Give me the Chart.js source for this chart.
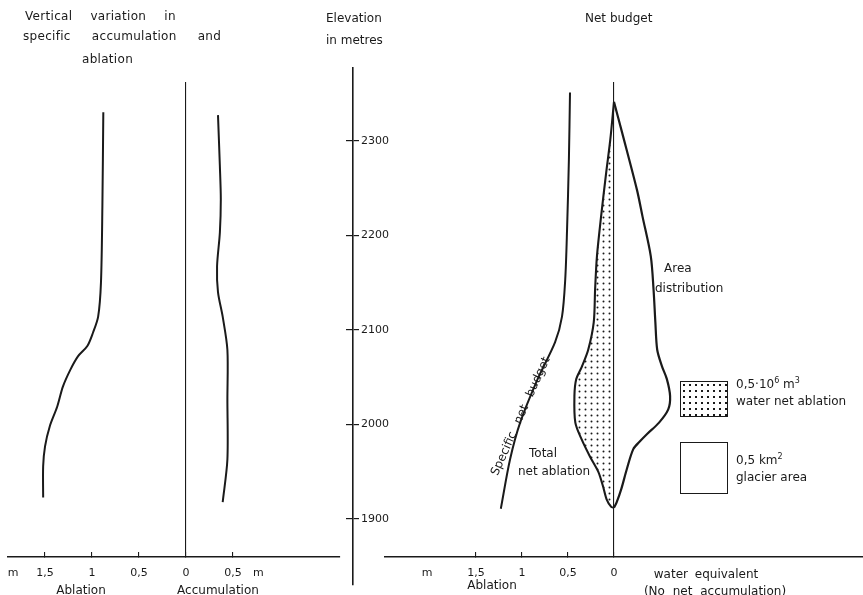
<!DOCTYPE html>
<html>
<head>
<meta charset="utf-8">
<script src="https://cdn.jsdelivr.net/npm/chart.js@4.4.1/dist/chart.umd.min.js"></script>
<style>
  body { margin: 0; background: #fff; }
  #wrap { position: relative; width: 863px; height: 595px; overflow: hidden; font-family: "DejaVu Sans", sans-serif; color: #1a1a1a; }
  canvas { position: absolute; top: 0; }
  .t { position: absolute; font-size: 12px; line-height: 14px; white-space: nowrap; }
  .c { transform: translateX(-50%); }
  .box { position: absolute; border: 1.5px solid #1a1a1a; box-sizing: border-box; }
  .dots { background-image: radial-gradient(circle, #1a1a1a 0.9px, transparent 1.3px); background-size: 6px 6px; }
  sup { font-size: 8px; line-height: 0; vertical-align: 5px; }
</style>
</head>
<body>
<div id="wrap">
  <canvas id="left" width="345" height="595" style="left:0"></canvas>
  <canvas id="elev" width="90" height="595" style="left:330px"></canvas>
  <canvas id="right" width="483" height="595" style="left:380px"></canvas>

  <div class="t" style="left:25px;top:9px;word-spacing:14px;letter-spacing:0.3px">Vertical variation in</div>
  <div class="t" style="left:23px;top:29px;word-spacing:17px;letter-spacing:0.3px">specific accumulation and</div>
  <div class="t" style="left:82px;top:52px;letter-spacing:0.3px">ablation</div>
  <div class="t" style="left:326px;top:11px">Elevation</div>
  <div class="t" style="left:326px;top:33px">in metres</div>
  <div class="t" style="left:585px;top:11px">Net budget</div>

  <div class="t c" style="left:81px;top:583px">Ablation</div>
  <div class="t c" style="left:218px;top:583px">Accumulation</div>
  <div class="t c" style="left:492px;top:578px">Ablation</div>
  <div class="t c" style="left:706px;top:567px;word-spacing:3px">water equivalent</div>
  <div class="t c" style="left:715px;top:584px;word-spacing:4px">(No net accumulation)</div>

  <div class="t" style="left:664px;top:261px">Area</div>
  <div class="t" style="left:655px;top:281px">distribution</div>
  <div class="t" style="left:529px;top:446px">Total</div>
  <div class="t" style="left:518px;top:464px">net ablation</div>
  <div class="t" style="left:520px;top:416px;transform:translate(-50%,-50%) rotate(-66deg);word-spacing:6px">Specific net budget</div>

  <div class="box dots" style="left:680px;top:381px;width:48px;height:36px"></div>
  <div class="box" style="left:680px;top:442px;width:48px;height:52px"></div>
  <div class="t" style="left:736px;top:377px">0,5·10<sup>6</sup> m<sup>3</sup></div>
  <div class="t" style="left:736px;top:394px">water net ablation</div>
  <div class="t" style="left:736px;top:453px">0,5 km<sup>2</sup></div>
  <div class="t" style="left:736px;top:470px">glacier area</div>
</div>
<script>
// elevation axis (m)
const elevTicks = [1900, 2000, 2100, 2200, 2300];

// left panel: specific ablation / accumulation (m water equivalent)
const ablationElev  = [2330, 2230, 2150, 2114, 2097, 2083, 2072, 2058, 2040, 2019, 1998, 1977, 1956, 1923];
const ablationValue = [-0.88, -0.89, -0.905, -0.935, -0.99, -1.05, -1.15, -1.23, -1.31, -1.37, -1.45, -1.50, -1.52, -1.52];
const accumElev  = [2327, 2273, 2238, 2203, 2167, 2140, 2114, 2079, 2027, 1963, 1918];
const accumValue = [0.34, 0.36, 0.37, 0.36, 0.33, 0.34, 0.39, 0.44, 0.44, 0.44, 0.39];
const leftTicks  = [-1.84, -1.5, -1, -0.5, 0, 0.5, 0.77];
const leftLabels = ['m', '1,5', '1', '0,5', '0', '0,5', 'm'];

// right panel: specific net budget, total net ablation, area distribution
const netElev  = [2351, 2280, 2206, 2153, 2114, 2087, 2048, 2002, 1963, 1911];
const netValue = [-0.478, -0.49, -0.51, -0.53, -0.565, -0.64, -0.83, -1.02, -1.13, -1.23];
const ablTotElev  = [2341, 2301, 2266, 2220, 2178, 2143, 2108, 2079, 2061, 2048, 2030, 2002, 1984, 1966, 1950, 1935, 1921, 1913, 1912];
const ablTotValue = [0, -0.04, -0.085, -0.14, -0.185, -0.205, -0.22, -0.28, -0.35, -0.41, -0.43, -0.42, -0.35, -0.26, -0.17, -0.12, -0.08, -0.03, 0];
const areaElev  = [2341, 2308, 2248, 2220, 2178, 2143, 2108, 2079, 2062, 2048, 2030, 2016, 2002, 1990, 1982, 1974, 1953, 1932, 1918, 1912];
const areaValue = [0, 0.09, 0.25, 0.31, 0.40, 0.43, 0.45, 0.47, 0.52, 0.575, 0.61, 0.59, 0.49, 0.36, 0.28, 0.21, 0.14, 0.08, 0.03, 0];
const rightTicks  = [-2.03, -1.5, -1, -0.5, 0];
const rightLabels = ['m', '1,5', '1', '0,5', '0'];

const ink = '#1a1a1a';
const tickFont = { family: 'DejaVu Sans', size: 11 };

function pts(xs, ys) {
  return xs.map((x, i) => ({ x: x, y: ys[i] }));
}

function curve(data, w) {
  return { data: data, showLine: true, borderColor: ink, borderWidth: w || 2, pointRadius: 0, tension: 0.3, fill: false };
}

function bottomAxis(min, max, ticks, labels) {
  return {
    type: 'linear', min: min, max: max,
    afterBuildTicks: s => { s.ticks = ticks.map(v => ({ value: v })); },
    afterFit: s => { s.height = 38; s.paddingLeft = 0; s.paddingRight = 0; },
    grid: {
      drawOnChartArea: true, drawTicks: true, tickLength: -5, lineWidth: 1.1,
      color: c => (c.tick && c.tick.value === 0) ? ink : 'rgba(0,0,0,0)',
      tickColor: c => (c.tick && labels[c.index] === 'm') ? 'rgba(0,0,0,0)' : ink
    },
    border: { display: true, color: ink, width: 1.5 },
    ticks: { autoSkip: false, maxRotation: 0, padding: 15, color: ink, font: tickFont, callback: (v, i) => labels[i] }
  };
}

const common = {
  responsive: false,
  animation: false,
  plugins: { legend: { display: false }, tooltip: { enabled: false } }
};

new Chart(document.getElementById('left'), {
  type: 'scatter',
  data: {
    datasets: [
      curve(pts(ablationValue, ablationElev)),
      curve(pts(accumValue, accumElev))
    ]
  },
  options: Object.assign({}, common, {
    layout: { autoPadding: false, padding: { left: 8, right: 5, top: 82, bottom: 0 } },
    scales: {
      x: bottomAxis(-1.894, 1.638, leftTicks, leftLabels),
      y: { display: false, min: 1860, max: 2362 }
    }
  })
});

new Chart(document.getElementById('elev'), {
  type: 'scatter',
  data: { datasets: [{ data: [] }] },
  options: Object.assign({}, common, {
    layout: { autoPadding: false, padding: { left: 16, right: 0, top: 68, bottom: 10 } },
    scales: {
      x: { display: false, min: 0, max: 1 },
      y: {
        position: 'right', min: 1830, max: 2377,
        afterBuildTicks: s => { s.ticks = elevTicks.map(v => ({ value: v })); },
        afterFit: s => { s.width = 67; },
        grid: { drawOnChartArea: true, drawTicks: true, tickLength: 6, color: ink, lineWidth: 1.2 },
        border: { display: true, color: ink, width: 1.6 },
        ticks: { padding: 2, color: ink, font: tickFont, callback: v => String(v) }
      }
    }
  })
});

const rightCanvas = document.getElementById('right');
const dotTile = document.createElement('canvas');
dotTile.width = 6; dotTile.height = 6;
const dctx = dotTile.getContext('2d');
dctx.fillStyle = ink;
dctx.beginPath(); dctx.arc(1.5, 1.5, 1.0, 0, Math.PI * 2); dctx.fill();
const stipple = rightCanvas.getContext('2d').createPattern(dotTile, 'repeat');

const ablationShape = curve(pts(ablTotValue, ablTotElev), 2.1);
ablationShape.fill = 'shape';
ablationShape.backgroundColor = stipple;

new Chart(rightCanvas, {
  type: 'scatter',
  data: {
    datasets: [
      ablationShape,
      curve(pts(areaValue, areaElev), 2.2),
      curve(pts(netValue, netElev), 2)
    ]
  },
  options: Object.assign({}, common, {
    layout: { autoPadding: false, padding: { left: 5, right: 0, top: 82, bottom: 0 } },
    scales: {
      x: bottomAxis(-2.489, 2.707, rightTicks, rightLabels),
      y: { display: false, min: 1860, max: 2362 }
    }
  })
});
</script>
</body>
</html>
